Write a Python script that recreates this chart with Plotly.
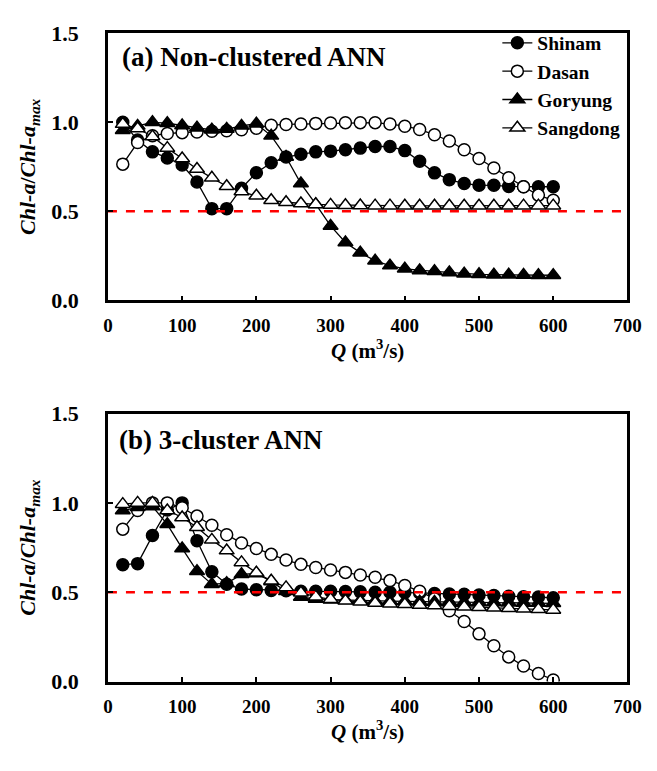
import plotly.graph_objects as go
from plotly.subplots import make_subplots

# ---------------- data ----------------
Q = [20, 40, 60, 80, 100, 120, 140, 160, 180, 200,
     220, 240, 260, 280, 300, 320, 340, 360, 380, 400,
     420, 440, 460, 480, 500, 520, 540, 560, 580, 600]

stations = ["Shinam", "Dasan", "Goryung", "Sangdong"]

# (a) Non-clustered ANN
shinam_a = [1.0, 0.90, 0.834, 0.80, 0.76, 0.665, 0.515, 0.515, 0.63, 0.717,
            0.773, 0.805, 0.82, 0.834, 0.838, 0.846, 0.855, 0.864, 0.864, 0.841,
            0.781, 0.716, 0.678, 0.656, 0.647, 0.646, 0.64, 0.638, 0.638, 0.638]
dasan_a = [0.765, 0.886, 0.925, 0.937, 0.942, 0.946, 0.95, 0.952, 0.958, 0.967,
           0.984, 0.988, 0.99, 0.994, 0.996, 0.998, 0.998, 0.998, 0.99, 0.978,
           0.96, 0.93, 0.895, 0.846, 0.797, 0.743, 0.689, 0.638, 0.591, 0.562]
goryung_a = [0.955, 0.98, 1.0, 0.995, 0.982, 0.97, 0.958, 0.962, 0.98, 0.992,
             0.924, 0.805, 0.656, 0.54, 0.418, 0.325, 0.268, 0.222, 0.195, 0.177,
             0.168, 0.163, 0.157, 0.15, 0.146, 0.144, 0.144, 0.142, 0.141, 0.141]
sangdong_a = [0.99, 0.965, 0.92, 0.855, 0.797, 0.738, 0.688, 0.641, 0.611, 0.587,
              0.562, 0.551, 0.544, 0.539, 0.536, 0.534, 0.533, 0.532, 0.532, 0.531,
              0.531, 0.531, 0.531, 0.531, 0.531, 0.531, 0.531, 0.532, 0.532, 0.532]

# (b) 3-cluster ANN
shinam_b = [0.654, 0.66, 0.817, 0.96, 1.0, 0.788, 0.614, 0.545, 0.518, 0.514,
            0.51, 0.508, 0.506, 0.505, 0.505, 0.504, 0.502, 0.5, 0.5, 0.498,
            0.496, 0.493, 0.49, 0.488, 0.485, 0.482, 0.478, 0.475, 0.473, 0.469]
dasan_b = [0.853, 0.957, 1.0, 1.0, 0.973, 0.926, 0.875, 0.822, 0.775, 0.745,
           0.712, 0.68, 0.656, 0.638, 0.624, 0.611, 0.596, 0.584, 0.565, 0.538,
           0.505, 0.464, 0.396, 0.336, 0.267, 0.2, 0.138, 0.087, 0.045, 0.009]
goryung_b = [0.957, 0.975, 0.98, 0.88, 0.745, 0.618, 0.545, 0.55, 0.6, 0.605,
             0.56, 0.505, 0.473, 0.462, 0.458, 0.455, 0.453, 0.451, 0.45, 0.449,
             0.447, 0.446, 0.445, 0.444, 0.443, 0.442, 0.441, 0.44, 0.439, 0.438]
sangdong_b = [0.993, 1.0, 1.0, 0.957, 0.918, 0.864, 0.793, 0.733, 0.667, 0.609,
              0.564, 0.527, 0.497, 0.475, 0.46, 0.452, 0.446, 0.44, 0.436, 0.432,
              0.428, 0.425, 0.422, 0.419, 0.416, 0.413, 0.41, 0.407, 0.404, 0.401]

threshold_x = [0, 700]
threshold_y = [0.5, 0.5]

panel_titles = ["<b>(a) Non-clustered ANN</b>", "<b>(b) 3-cluster ANN</b>"]
y_ticks = [0.0, 0.5, 1.0, 1.5]
x_ticks = [0, 100, 200, 300, 400, 500, 600, 700]

# ---------------- styling ----------------
FONT = "Liberation Serif"
styles = {
    "Shinam":   dict(symbol="circle", fill="black", size=12),
    "Dasan":    dict(symbol="circle", fill="white", size=12),
    "Goryung":  dict(symbol="triangle-up", fill="black", size=13),
    "Sangdong": dict(symbol="triangle-up", fill="white", size=13),
}

fig = make_subplots(rows=2, cols=1)

panels = [
    [shinam_a, dasan_a, goryung_a, sangdong_a],
    [shinam_b, dasan_b, goryung_b, sangdong_b],
]

for r, series in enumerate(panels, start=1):
    for name, vals in zip(stations, series):
        st = styles[name]
        fig.add_trace(go.Scatter(
            x=Q, y=vals, mode="lines+markers", name=name,
            showlegend=(r == 1),
            line=dict(color="black", width=1.3),
            marker=dict(symbol=st["symbol"], size=st["size"], color=st["fill"],
                        line=dict(color="black", width=1.5)),
        ), row=r, col=1)
    fig.add_trace(go.Scatter(
        x=threshold_x, y=threshold_y, mode="lines", showlegend=False,
        line=dict(color="#ff0000", width=2.5, dash="dash"), hoverinfo="skip",
    ), row=r, col=1)

x_dom = [106 / 657, 641 / 657]
y_doms = [[1 - 298 / 771, 1 - 22 / 771], [1 - 692 / 771, 1 - 415 / 771]]

ytitle = "<b><i>Chl-a</i></b><b>/</b><b><i>Chl-a</i></b><sub><b><i>max</i></b></sub>"
xtitle = "<b><i>Q</i> (m<sup>3</sup>/s)</b>"

for i in (1, 2):
    fig.update_xaxes(
        row=i, col=1, domain=x_dom, range=[0, 700], tickvals=x_ticks,
        showline=True, linecolor="black", linewidth=2.5, mirror=True,
        ticks="inside", ticklen=5, tickwidth=1.5, tickcolor="black",
        showgrid=False, zeroline=False,
        tickfont=dict(family=FONT, size=19, color="black", weight="bold"),
        ticklabelstandoff=6,
        title=dict(text=xtitle, font=dict(family=FONT, size=21, color="black"), standoff=9),
    )
    fig.update_yaxes(
        row=i, col=1, domain=y_doms[i - 1], range=[0, 1.5], tickvals=y_ticks,
        tickformat=".1f",
        showline=True, linecolor="black", linewidth=2.5, mirror=True,
        ticks="inside", ticklen=5, tickwidth=1.5, tickcolor="black",
        showgrid=False, zeroline=False,
        tickfont=dict(family=FONT, size=22, color="black", weight="bold"),
        ticklabelstandoff=22,
        title=dict(text=ytitle, font=dict(family=FONT, size=22, color="black"), standoff=10),
    )

fig.add_annotation(text=panel_titles[0], xref="paper", yref="paper",
                   x=118 / 657, y=1 - 47 / 771, xanchor="left", yanchor="middle",
                   showarrow=False, font=dict(family=FONT, size=27, color="black"))
fig.add_annotation(text=panel_titles[1], xref="paper", yref="paper",
                   x=115 / 657, y=1 - 442 / 771, xanchor="left", yanchor="middle",
                   showarrow=False, font=dict(family=FONT, size=27, color="black"))

fig.update_layout(
    width=657, height=771,
    margin=dict(l=0, r=0, t=0, b=0),
    paper_bgcolor="white", plot_bgcolor="white",
    legend=dict(x=507 / 657, y=1 - 12 / 771, xanchor="left", yanchor="top",
                font=dict(family=FONT, size=19.5, color="black", weight="bold"),
                bgcolor="rgba(0,0,0,0)", tracegroupgap=0, itemwidth=30),
    font=dict(family=FONT, color="black"),
)

fig.write_html("out.html")
